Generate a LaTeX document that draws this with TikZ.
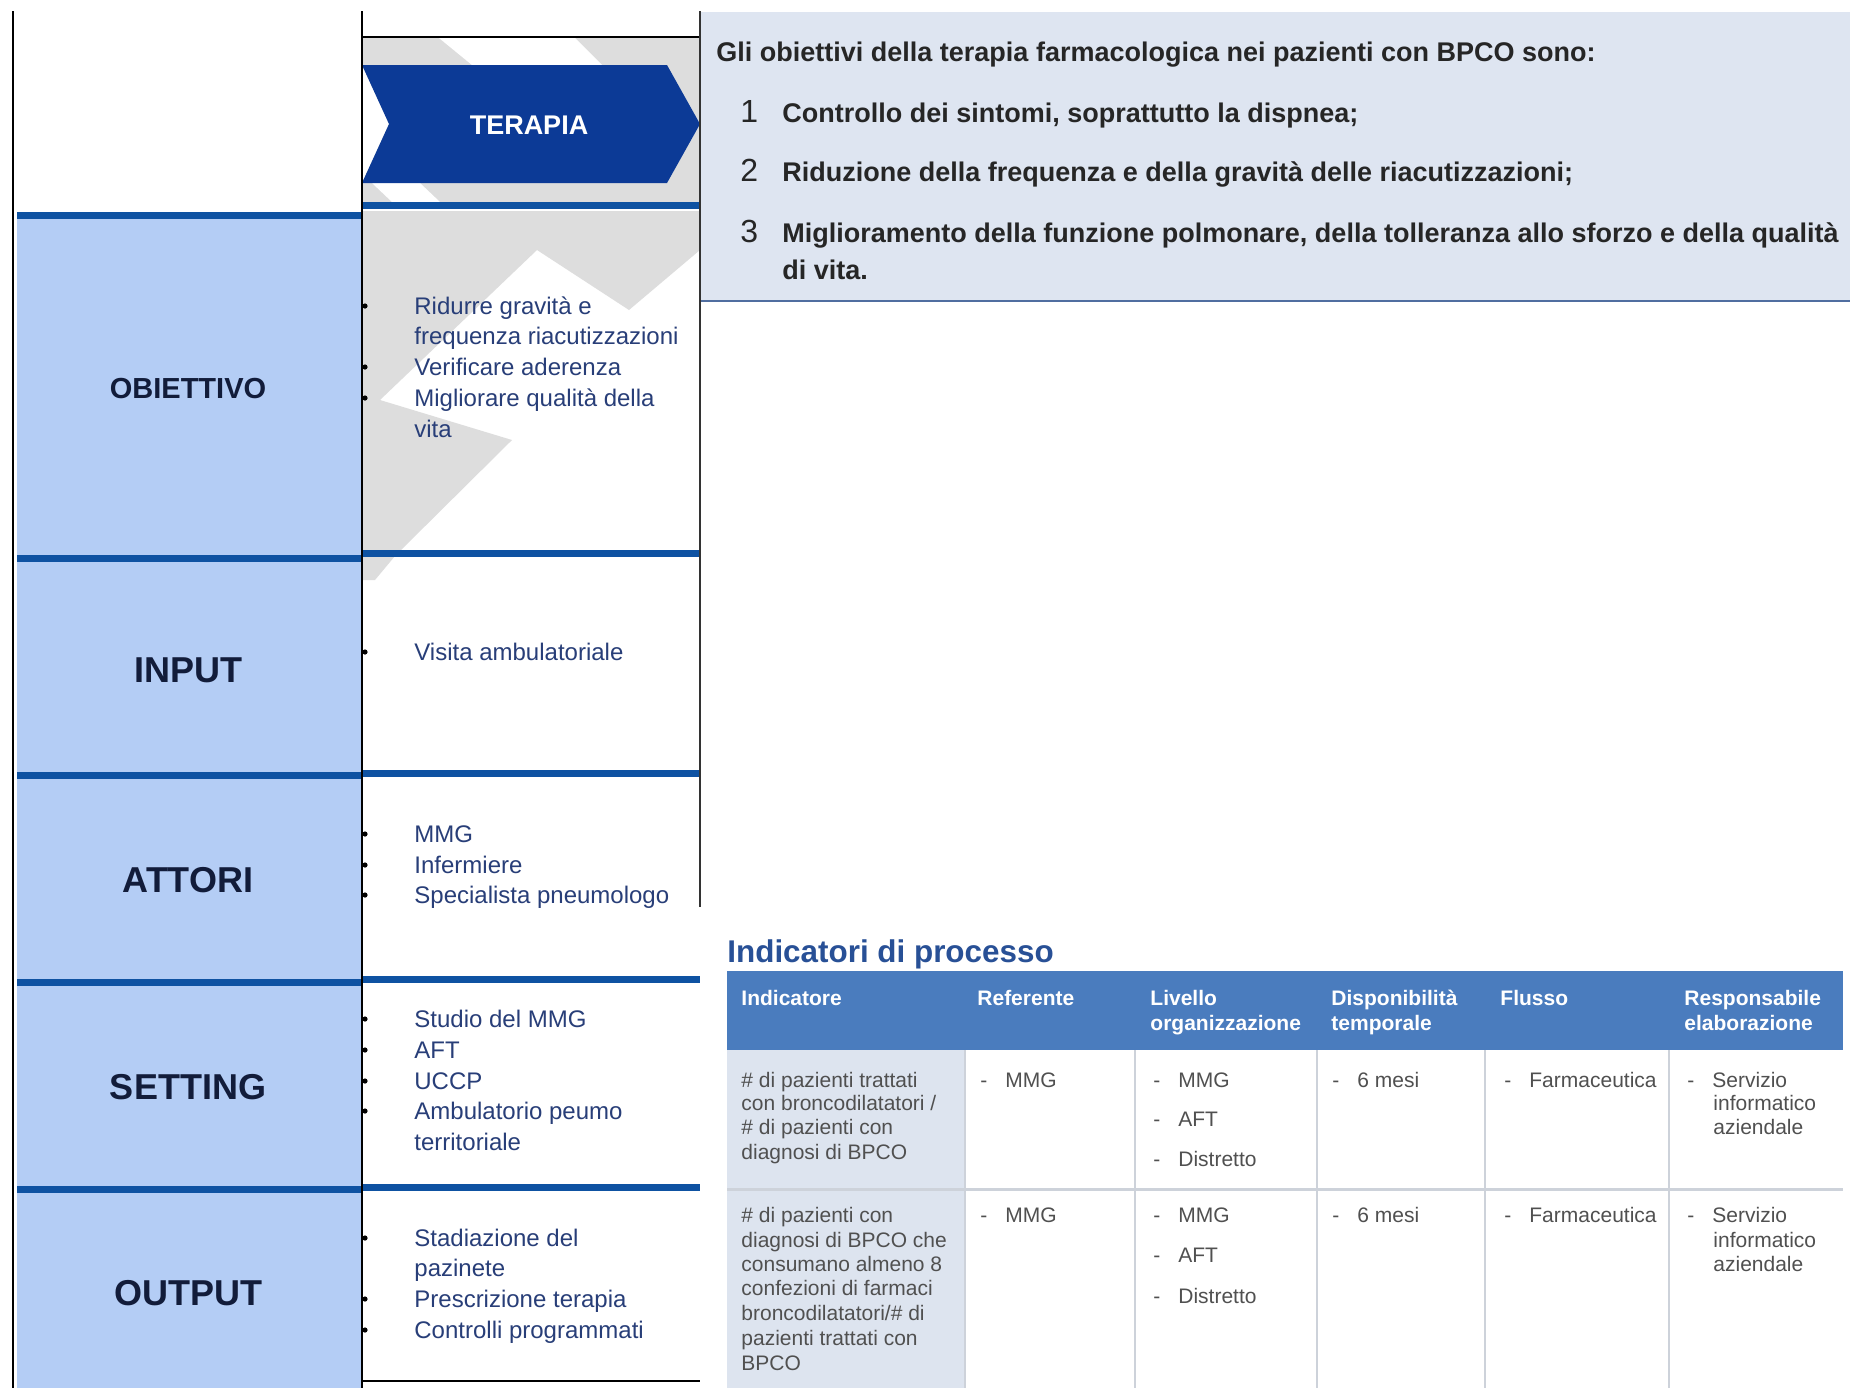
\documentclass[tikz,border=0pt]{standalone}
\usepackage{fontspec}
\setmainfont{Liberation Sans}
\usetikzlibrary{calc}

\definecolor{rigablu}{RGB}{14,82,162}
\definecolor{celeste}{RGB}{180,205,245}
\definecolor{freccia}{RGB}{12,58,150}
\definecolor{filigrana}{RGB}{221,221,221}
\definecolor{testoblu}{RGB}{40,62,120}
\definecolor{etichetta}{RGB}{18,28,58}
\definecolor{riquadro}{RGB}{222,229,241}
\definecolor{bordoriq}{RGB}{80,110,160}
\definecolor{intestazione}{RGB}{74,124,190}
\definecolor{colonna}{RGB}{221,228,239}
\definecolor{grigiotab}{RGB}{80,80,80}
\definecolor{lineatab}{RGB}{205,210,218}
\definecolor{titolotab}{RGB}{40,80,150}

\newcommand{\lineetta}{\makebox[12.5pt][l]{-}}

\tikzset{
  fase/.style={font=\fontsize{18}{20}\selectfont\bfseries, text=etichetta, inner sep=0},
  voce/.style={anchor=base west, inner sep=0, font=\fontsize{12}{14}\selectfont, text=testoblu},
  scopo/.style={anchor=base west, inner sep=0, font=\fontsize{13.5}{16}\selectfont\bfseries, text=black!85},
  numero/.style={anchor=base west, inner sep=0, font=\fontsize{16}{18}\selectfont, text=black!85},
  testa/.style={anchor=base west, inner sep=0, font=\fontsize{10.5}{12}\selectfont\bfseries, text=white},
  cella/.style={anchor=base west, inner sep=0, font=\fontsize{10.5}{12}\selectfont, text=grigiotab},
  separa/.style={rigablu, line width=3.5pt},
  punto/.style={fill=black, radius=1.3pt}
}

\begin{document}
\begin{tikzpicture}[x=0.5pt, y=-0.5pt]
\useasboundingbox (0,0) rectangle (1850,1388);
\fill[white] (0,0) rectangle (1850,1388);

\fill[celeste] (17,215) rectangle (362,1388);
\fill[riquadro] (700,12) rectangle (1850,301);
\draw[bordoriq, line width=1pt] (700,301) -- (1850,301);

\fill[filigrana] (362,38) rectangle (700,202);
\fill[white] (439,38) -- (575,38) -- (602,65) -- (472,65) -- cycle;
\fill[white] (372,183) -- (420,183) -- (440,202) -- (392,202) -- cycle;
\fill[filigrana] (362,211) -- (700,211) -- (700,250) -- (629,310) -- (537,250) -- (380,400)
  -- (512,440) -- (400,551) -- (362,551) -- cycle;
\fill[filigrana] (362,556) -- (395,556) -- (375,580) -- (362,580) -- cycle;

\coordinate (A) at (362,65);
\coordinate (B) at (667,65);
\coordinate (C) at (700,124);
\coordinate (D) at (667,183);
\coordinate (E) at (362,183);
\coordinate (F) at (389,124);
\fill[white] (A) -- (F) -- (E) -- cycle;
\fill[freccia] (A) -- (B) -- (C) -- (D) -- (E) -- (F) -- cycle;
\node[font=\fontsize{13.5}{16}\selectfont\bfseries, text=white, inner sep=0] (terapia) at (529,125) {TERAPIA};

\draw[separa] (17,215) -- (362,215);
\draw[separa] (17,558) -- (362,558);
\draw[separa] (17,775) -- (362,775);
\draw[separa] (17,982) -- (362,982);
\draw[separa] (17,1189) -- (362,1189);
\draw[separa] (362,205) -- (700,205);
\draw[separa] (362,553) -- (700,553);
\draw[separa] (362,773) -- (700,773);
\draw[separa] (362,979) -- (700,979);
\draw[separa] (362,1187) -- (700,1187);

\draw[black, line width=1pt] (13,11) -- (13,1388);
\draw[black, line width=1pt] (362,11) -- (362,1388);
\draw[black, line width=1pt] (362,37) -- (700,37);
\draw[black!80, line width=0.8pt] (700,11) -- (700,907);
\draw[black, line width=1pt] (362,1381) -- (700,1381);

\node[fase, font=\fontsize{14.5}{16}\selectfont\bfseries] (obiettivo) at (188,389) {OBIETTIVO};
\node[fase] (input) at (188,670) {INPUT};
\node[fase] (attori) at (188,880) {ATTORI};
\node[fase] (setting) at (188,1087) {SETTING};
\node[fase] (output) at (188,1293) {OUTPUT};

\fill[punto] (365,306) circle;
\fill[punto] (365,367) circle;
\fill[punto] (365,398) circle;
\fill[punto] (365,652) circle;
\fill[punto] (365,834) circle;
\fill[punto] (365,865) circle;
\fill[punto] (365,895) circle;
\fill[punto] (365,1019) circle;
\fill[punto] (365,1050) circle;
\fill[punto] (365,1081) circle;
\fill[punto] (365,1111) circle;
\fill[punto] (365,1238) circle;
\fill[punto] (365,1299) circle;
\fill[punto] (365,1330) circle;

\node[voce] (obj1) at (414,314) {Ridurre gravità e};
\node[voce] (obj2) at (414,344) {frequenza riacutizzazioni};
\node[voce] (obj3) at (414,375) {Verificare aderenza};
\node[voce] (obj4) at (414,406) {Migliorare qualità della};
\node[voce] (obj5) at (414,437) {vita};
\node[voce] (inp1) at (414,660) {Visita ambulatoriale};
\node[voce] (att1) at (414,842) {MMG};
\node[voce] (att2) at (414,873) {Infermiere};
\node[voce] (att3) at (414,903) {Specialista pneumologo};
\node[voce] (set1) at (414,1027) {Studio del MMG};
\node[voce] (set2) at (414,1058) {AFT};
\node[voce] (set3) at (414,1089) {UCCP};
\node[voce] (set4) at (414,1119) {Ambulatorio peumo};
\node[voce] (set5) at (414,1150) {territoriale};
\node[voce] (out1) at (414,1246) {Stadiazione del};
\node[voce] (out2) at (414,1276) {pazinete};
\node[voce] (out3) at (414,1307) {Prescrizione terapia};
\node[voce] (out4) at (414,1338) {Controlli programmati};

\node[scopo] (intro) at (716,61) {Gli obiettivi della terapia farmacologica nei pazienti con BPCO sono:};
\node[numero] (n1) at (740,122) {1};
\node[scopo] (sc1) at (782,122) {Controllo dei sintomi, soprattutto la dispnea;};
\node[numero] (n2) at (740,181) {2};
\node[scopo] (sc2) at (782,181) {Riduzione della frequenza e della gravità delle riacutizzazioni;};
\node[numero] (n3) at (740,242) {3};
\node[scopo] (sc3) at (782,242) {Miglioramento della funzione polmonare, della tolleranza allo sforzo e della qualità};
\node[scopo] (sc3b) at (782,279) {di vita.};

\node[anchor=base west, inner sep=0, font=\fontsize{15.7}{18}\selectfont\bfseries, text=titolotab] (titolo) at (727,962) {Indicatori di processo};
\fill[intestazione] (727,971) rectangle (1843,1050);
\fill[colonna] (727,1050) rectangle (965,1388);
\draw[lineatab, line width=1.5pt] (727,1189) -- (1843,1189);
\draw[lineatab, line width=0.8pt] (965,1050) -- (965,1388);
\draw[lineatab, line width=0.8pt] (1135,1050) -- (1135,1388);
\draw[lineatab, line width=0.8pt] (1317,1050) -- (1317,1388);
\draw[lineatab, line width=0.8pt] (1485,1050) -- (1485,1388);
\draw[lineatab, line width=0.8pt] (1669,1050) -- (1669,1388);

\node[testa] (h1) at (741,1005) {Indicatore};
\node[testa] (h2) at (977,1005) {Referente};
\node[testa] (h3a) at (1150,1005) {Livello};
\node[testa] (h3b) at (1150,1030) {organizzazione};
\node[testa] (h4a) at (1331,1005) {Disponibilità};
\node[testa] (h4b) at (1331,1030) {temporale};
\node[testa] (h5) at (1500,1005) {Flusso};
\node[testa] (h6a) at (1684,1005) {Responsabile};
\node[testa] (h6b) at (1684,1030) {elaborazione};

\node[cella] (a1) at (741,1087) {\# di pazienti trattati};
\node[cella] (a2) at (741,1110) {con broncodilatatori /};
\node[cella] (a3) at (741,1134) {\# di pazienti con};
\node[cella] (a4) at (741,1159) {diagnosi di BPCO};
\node[cella] (a5) at (980,1087) {\lineetta MMG};
\node[cella] (a6) at (1153,1087) {\lineetta MMG};
\node[cella] (a7) at (1153,1126) {\lineetta AFT};
\node[cella] (a8) at (1153,1166) {\lineetta Distretto};
\node[cella] (a9) at (1332,1087) {\lineetta 6 mesi};
\node[cella] (a10) at (1504,1087) {\lineetta Farmaceutica};
\node[cella] (a11) at (1687,1087) {\lineetta Servizio};
\node[cella] (a12) at (1713,1110) {informatico};
\node[cella] (a13) at (1713,1134) {aziendale};

\node[cella] (b1) at (741,1222) {\# di pazienti con};
\node[cella] (b2) at (741,1247) {diagnosi di BPCO che};
\node[cella] (b3) at (741,1271) {consumano almeno 8};
\node[cella] (b4) at (741,1295) {confezioni di farmaci};
\node[cella] (b5) at (741,1320) {broncodilatatori/\# di};
\node[cella] (b6) at (741,1345) {pazienti trattati con};
\node[cella] (b7) at (741,1370) {BPCO};
\node[cella] (b8) at (980,1222) {\lineetta MMG};
\node[cella] (b9) at (1153,1222) {\lineetta MMG};
\node[cella] (b10) at (1153,1262) {\lineetta AFT};
\node[cella] (b11) at (1153,1303) {\lineetta Distretto};
\node[cella] (b12) at (1332,1222) {\lineetta 6 mesi};
\node[cella] (b13) at (1504,1222) {\lineetta Farmaceutica};
\node[cella] (b14) at (1687,1222) {\lineetta Servizio};
\node[cella] (b15) at (1713,1247) {informatico};
\node[cella] (b16) at (1713,1271) {aziendale};
\end{tikzpicture}
\end{document}
